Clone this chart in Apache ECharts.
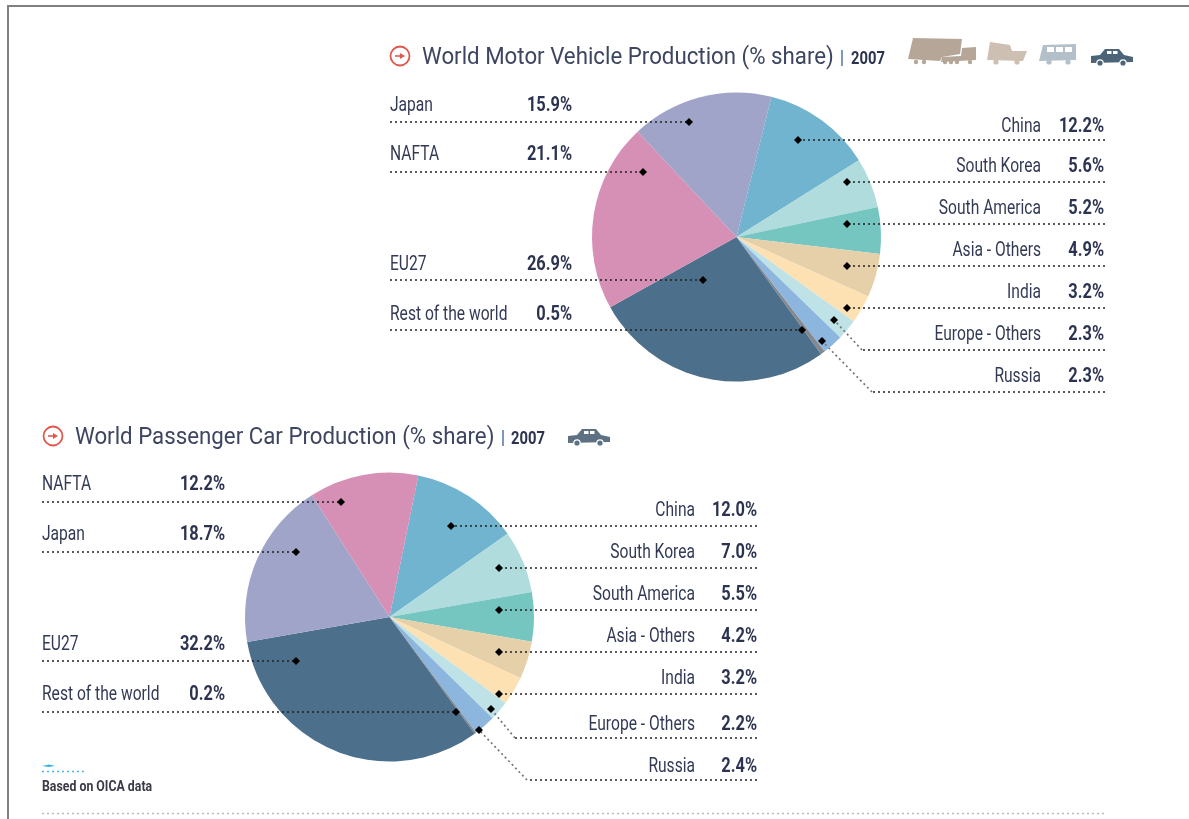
<!DOCTYPE html>
<html><head><meta charset="utf-8">
<style>html,body{margin:0;padding:0;background:#fff}#c{width:1189px;height:819px;filter:blur(0.45px)}</style>
<script src="https://cdn.jsdelivr.net/npm/echarts@6/dist/echarts.min.js"></script>
</head><body><div id="c"></div>
<script>
// ---- data ----
const motorCategories = ['China','South Korea','South America','Asia - Others','India','Europe - Others','Russia','Rest of the world','EU27','NAFTA','Japan'];
const motorValues = [12.2,5.6,5.2,4.9,3.2,2.3,2.3,0.5,26.9,21.1,15.9];
const carCategories = ['China','South Korea','South America','Asia - Others','India','Europe - Others','Russia','Rest of the world','EU27','Japan','NAFTA'];
const carValues = [12.0,7.0,5.5,4.2,3.2,2.2,2.4,0.2,32.2,18.7,12.2];
const motorTitle = 'World Motor Vehicle Production (% share)';
const carTitle = 'World Passenger Car Production (% share)';
const yearLabel = '2007';
const sourceNote = 'Based on OICA data';

// ---- style ----
const sliceColors = {
  'China':'#70b4d0','South Korea':'#b1dcdd','South America':'#75c5c1','Asia - Others':'#e6d0aa',
  'India':'#fde1b3','Europe - Others':'#bee2e6','Russia':'#8db6de','Rest of the world':'#85898e',
  'EU27':'#4c6f8b','NAFTA':'#d68fb5','Japan':'#a0a4c9'
};
const FONT = 'Roboto,sans-serif';
const INK = '#2c3350';

// ---- annotation layout: name -> [text y, line y, dot x, dot y, elbow x] ----
const motorLayout = {
  left:{x0:390,valueRight:572,rows:{
    'Japan':[104,122,689],'NAFTA':[153,172,643],'EU27':[263,280,703],'Rest of the world':[313,330,802]}},
  right:{x1:1105,nameRight:1041,valueRight:1104,rows:{
    'China':[125,140,798],'South Korea':[165,182,847],'South America':[207,224,847],'Asia - Others':[249,266,847],
    'India':[291,308,847],'Europe - Others':[333,350,862,834,320],'Russia':[375,392,872,822,341]}}
};
const carLayout = {
  left:{x0:42,valueRight:225,rows:{
    'NAFTA':[483,502,341],'Japan':[533,552,296],'EU27':[643,661,296],'Rest of the world':[693,712,456]}},
  right:{x1:757,nameRight:695,valueRight:757,rows:{
    'China':[509,526,451],'South Korea':[551,568,499],'South America':[593,610,499],'Asia - Others':[635,652,499],
    'India':[677,694,499],'Europe - Others':[723,738,515,491,709],'Russia':[765,780,527,479,730]}}
};

const g = [];
const dotted = (pts,color) => g.push({type:'polyline',silent:true,z:20,shape:{points:pts},
  style:{fill:null,stroke:color||'#222',lineWidth:1.7,lineDash:[2,3]}});
const diamond = (x,y) => g.push({type:'polygon',silent:true,z:21,shape:{points:[[x,y-4],[x+4,y],[x,y+4],[x-4,y]]},style:{fill:'#000'}});
const label = (x,y,text,align,bold,size,color,sx) => g.push({type:'text',silent:true,z:22,x:x,y:y,scaleX:sx,
  style:{text:text,x:0,y:0,align:align,verticalAlign:'middle',fill:color||INK,font:(bold?'bold ':'')+size+'px '+FONT}});

function annotate(cats,vals,lay){
  const val = n => vals[cats.indexOf(n)].toFixed(1)+'%';
  Object.entries(lay.left.rows).forEach(([n,r])=>{
    label(lay.left.x0,r[0]+1.5,n,'left',false,20,'#333a55',0.78);
    label(lay.left.valueRight,r[0]+1.5,val(n),'right',true,20,INK,0.82);
    dotted([[lay.left.x0,r[1]],[r[2],r[1]]]);
    diamond(r[2],r[1]);
  });
  Object.entries(lay.right.rows).forEach(([n,r])=>{
    label(lay.right.nameRight,r[0]+1.5,n,'right',false,20,'#333a55',0.78);
    label(lay.right.valueRight,r[0]+1.5,val(n),'right',true,20,INK,0.82);
    dotted([[lay.right.x1,r[1]],[r[2],r[1]]]);
    if(r.length>3){
      dotted([[r[2],r[1]],[r[3],r[4]]],'#777');
      diamond(r[3],r[4]);
    } else diamond(r[2],r[1]);
  });
}
annotate(motorCategories,motorValues,motorLayout);
annotate(carCategories,carValues,carLayout);

function header(cx,cy,titleX,title,sepX,yearX){
  g.push({type:'circle',silent:true,shape:{cx:cx,cy:cy,r:9.5},style:{fill:'#fff',stroke:'#e2574c',lineWidth:1.8}});
  g.push({type:'line',silent:true,shape:{x1:cx-5,y1:cy,x2:cx+3,y2:cy},style:{stroke:'#e2574c',lineWidth:1.6}});
  g.push({type:'polygon',silent:true,shape:{points:[[cx+5,cy],[cx,cy-3],[cx,cy+3]]},style:{fill:'#e2574c'}});
  label(titleX,cy+2,title,'left',false,24,'#3d4560',0.928);
  g.push({type:'line',silent:true,shape:{x1:sepX,y1:cy-6,x2:sepX,y2:cy+10},style:{stroke:'#5b7fa8',lineWidth:1.6}});
  label(yearX,cy+3,yearLabel,'left',true,18,INK,0.82);
}
header(400,56,422,motorTitle,842,851);
header(53,436,75,carTitle,503,511);

// vehicle icons
function car(x,y,c){
  g.push({type:'polygon',silent:true,shape:{points:[[x,y+4],[x+9,y+3],[x+14,y-3],[x+28,y-3],[x+33,y+3],[x+42,y+5],[x+42,y+10],[x,y+11]]},style:{fill:c}});
  [[x+9],[x+32]].forEach(a=>g.push({type:'circle',silent:true,shape:{cx:a[0],cy:y+11,r:3.2},style:{fill:c,stroke:'#fff',lineWidth:1.2}}));
  g.push({type:'rect',silent:true,shape:{x:x+16,y:y-1,width:4.5,height:3},style:{fill:'#fff'}});
  g.push({type:'rect',silent:true,shape:{x:x+22,y:y-1,width:4.5,height:3},style:{fill:'#fff'}});
}
car(1091,52,'#4c6478');
car(568,432,'#5e7183');
const tc='#b5a698', tc2='#cdbfb1', bc='#b3bfc9';
g.push({type:'polygon',silent:true,shape:{points:[[913,38],[962,39],[960,54],[942,57],[940,61],[908,59]]},style:{fill:tc}});
g.push({type:'polygon',silent:true,shape:{points:[[942,57],[961,56],[962,48],[976,47],[976,60],[941,62]]},style:{fill:tc}});
[[916],[924],[945],[951],[957],[970]].forEach(a=>g.push({type:'circle',silent:true,shape:{cx:a[0],cy:62,r:2.2},style:{fill:tc}}));
g.push({type:'polygon',silent:true,shape:{points:[[990,42],[1010,45],[1012,51],[1027,51],[1023,61],[987,60]]},style:{fill:tc2}});
[[996],[1017]].forEach(a=>g.push({type:'circle',silent:true,shape:{cx:a[0],cy:62,r:2.6},style:{fill:tc2}}));
g.push({type:'polygon',silent:true,shape:{points:[[1043,45],[1076,44],[1076,60],[1039,61]]},style:{fill:bc}});
[[1047],[1056],[1065]].forEach(a=>g.push({type:'rect',silent:true,shape:{x:a[0],y:47,width:7,height:5},style:{fill:'#fff'}}));
[[1049],[1068]].forEach(a=>g.push({type:'circle',silent:true,shape:{cx:a[0],cy:62,r:2.6},style:{fill:bc}}));

// source note
g.push({type:'polygon',silent:true,shape:{points:[[42,766],[49,764.5],[55,766],[49,767]]},style:{fill:'#37b1e3'}});
dotted([[42,771.5],[85,771.5]],'#44b7ea');
label(42,787.5,sourceNote,'left',true,14,'#3a3a48',0.88);
// page rules
dotted([[42,813.5],[1105,813.5]],'#bbb');
g.push({type:'line',silent:true,shape:{x1:7,y1:6,x2:1189,y2:6},style:{stroke:'#808080',lineWidth:2}});
g.push({type:'line',silent:true,shape:{x1:8,y1:5,x2:8,y2:819},style:{stroke:'#808080',lineWidth:2}});

const pie = (cats,vals,center,start) => ({
  type:'pie',center:center,radius:[0,144.5],startAngle:start,clockwise:true,silent:true,animation:false,
  minAngle:0,avoidLabelOverlap:false,
  label:{show:false},labelLine:{show:false},
  itemStyle:{borderWidth:0},
  data:cats.map((n,i)=>({name:n,value:vals[i],itemStyle:{color:sliceColors[n]}}))
});

const chart = echarts.init(document.getElementById('c'),null,{renderer:'canvas'});
chart.setOption({
  backgroundColor:'#fff',animation:false,
  series:[pie(motorCategories,motorValues,[736.5,237],76),pie(carCategories,carValues,[389.5,617],78.5)],
  graphic:g
});
</script></body></html>
